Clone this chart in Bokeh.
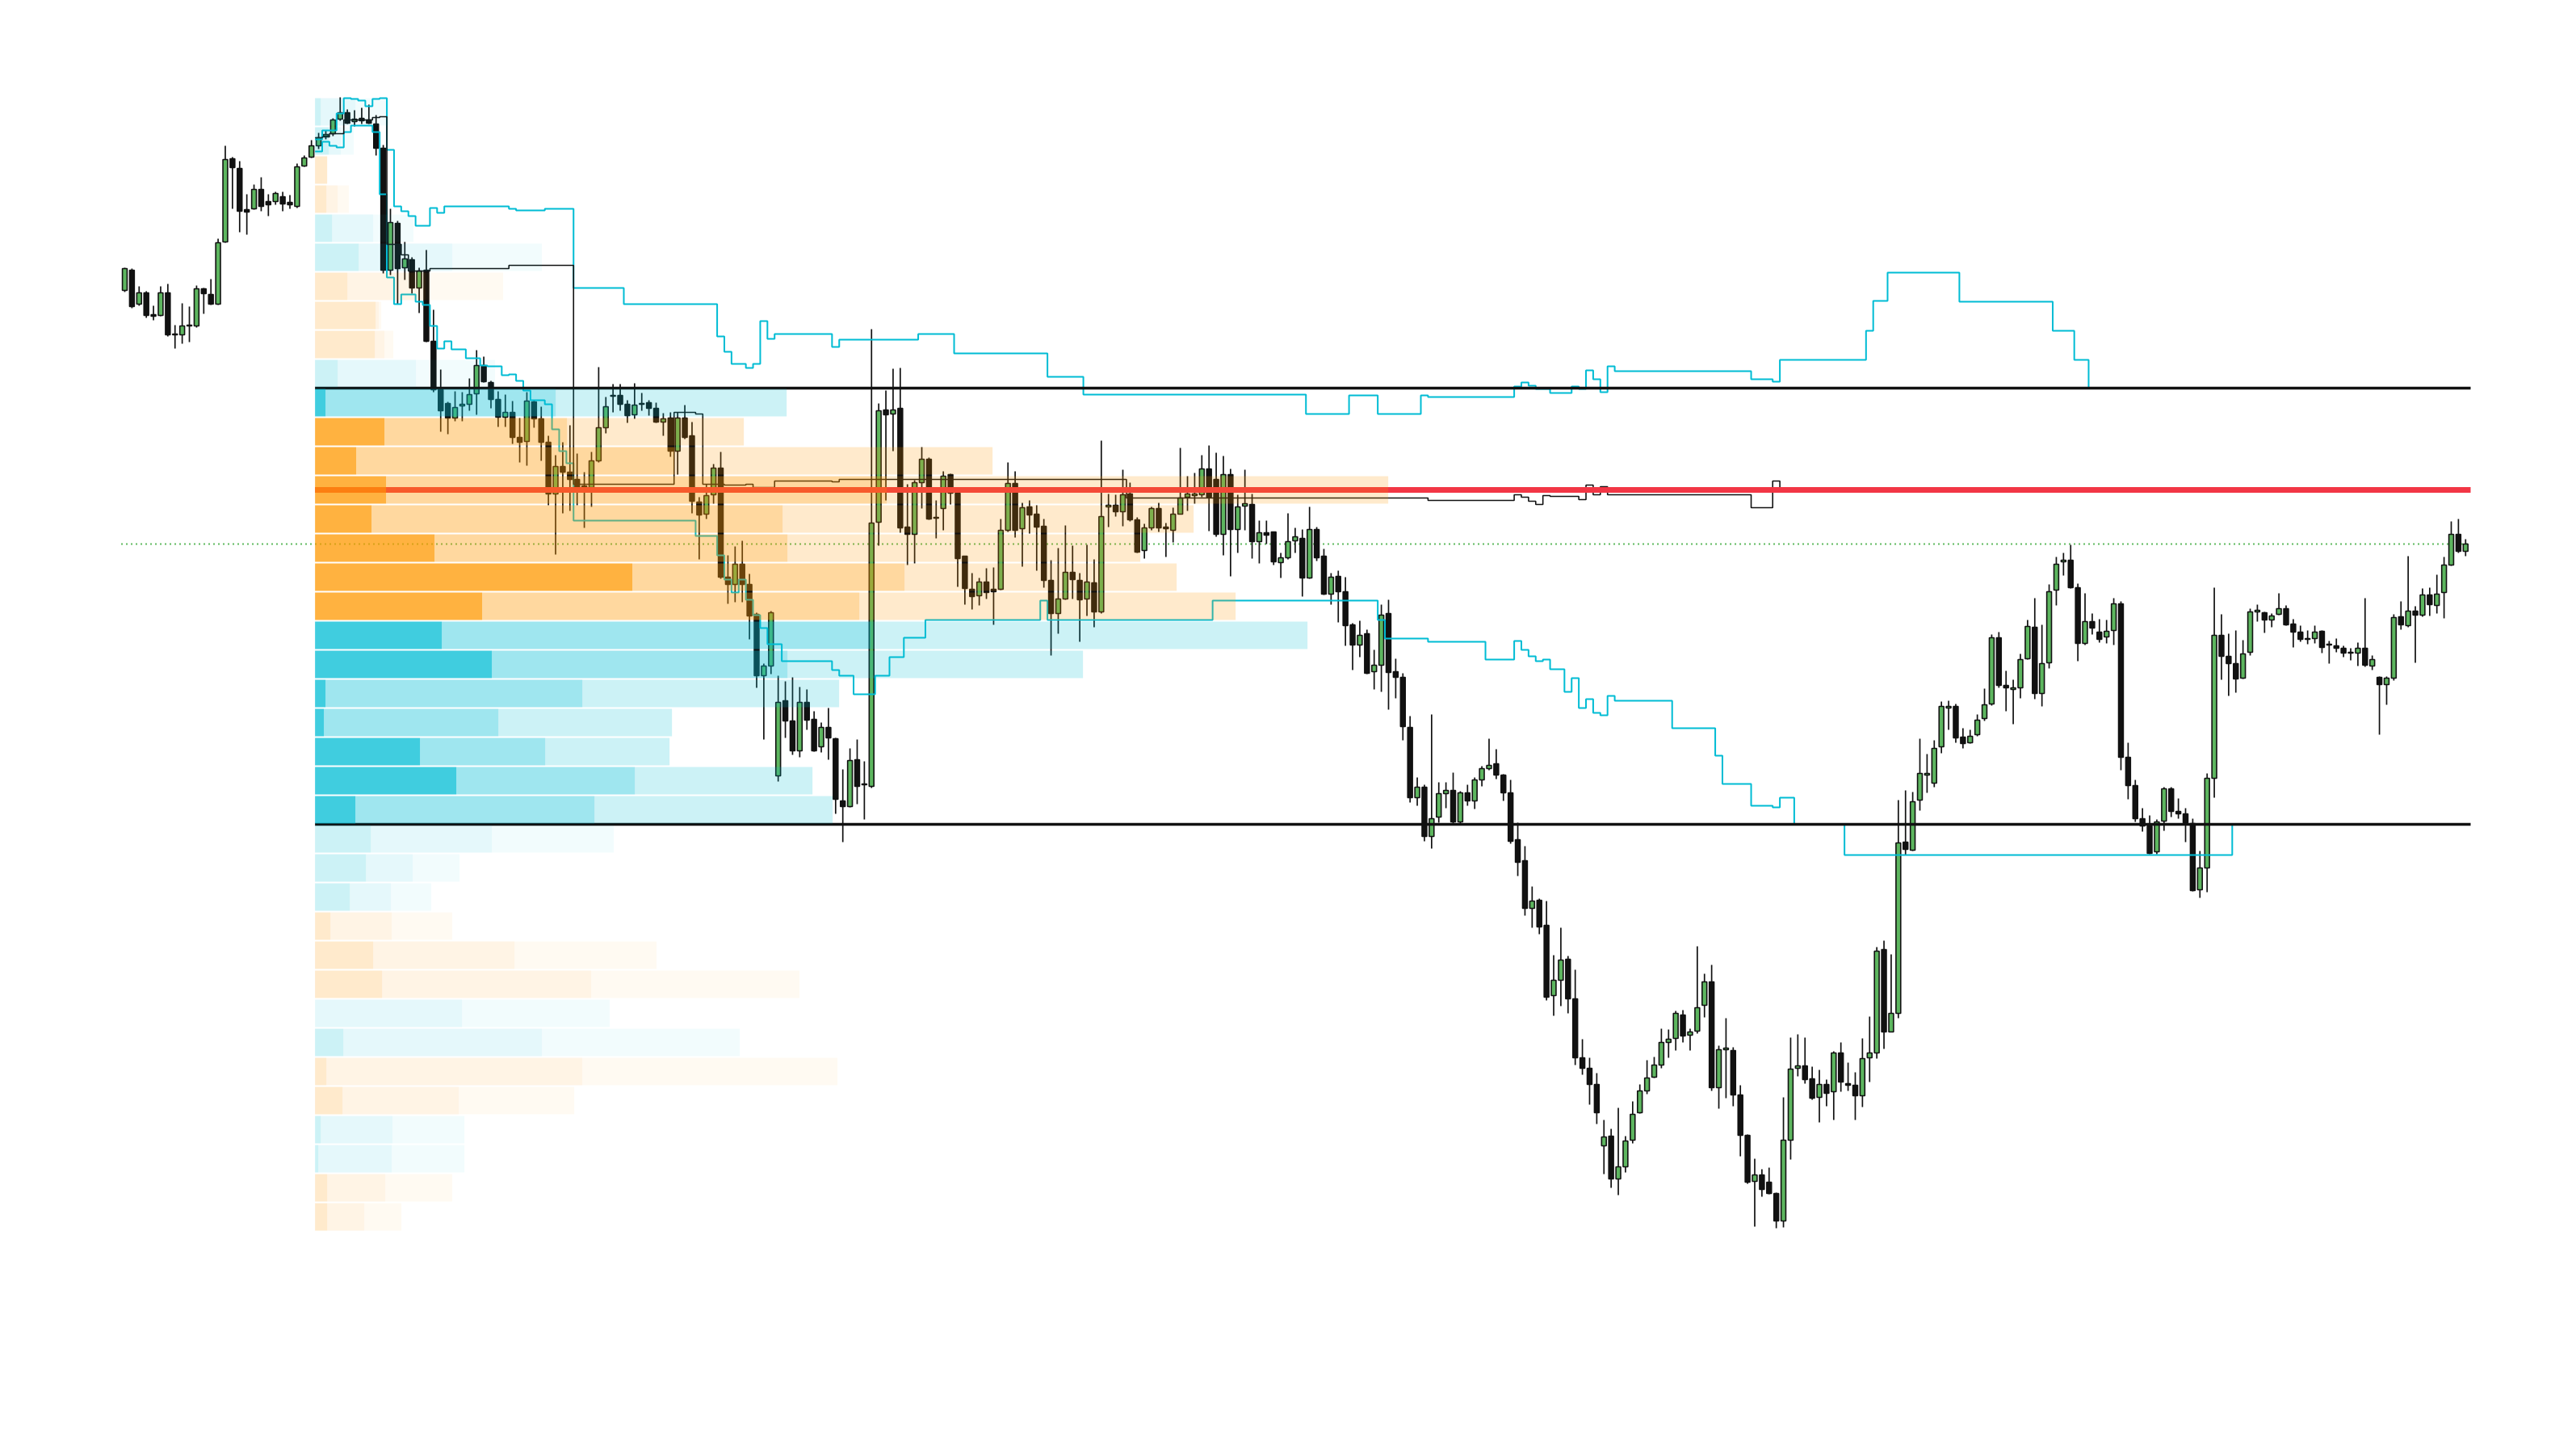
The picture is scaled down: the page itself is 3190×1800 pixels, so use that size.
from bokeh.plotting import figure
from bokeh.models import Range1d
from bokeh.embed import file_html
from bokeh.resources import INLINE

# ---------------- candle data (price units) ----------------
opens = [1641,1666,1624,1638,1611,1610,1638,1587,1586,1597,1597,1643,1636,1624,1701,1804,1792,1741,1742,1766,
1751,1751,1757,1750,1745,1795,1806,1820,1832,1835,1853,1861,1850,1854,1852,1847,1817,1666,1724,1669,
1679,1644,1666,1578,1518,1501,1483,1498,1500,1513,1548,1527,1506,1484,1490,1459,1454,1503,1482,1453,
1389,1423,1416,1407,1399,1397,1430,1471,1510,1511,1500,1487,1500,1502,1495,1478,1483,1442,1483,1461,
1379,1364,1388,1421,1286,1277,1302,1277,1240,1164,1176,1040,1133,1108,1071,1131,1110,1076,1100,1086,
1009,1002,1060,1029,1027,1354,1493,1488,1495,1348,1339,1403,1432,1359,1371,1413,1390,1312,1271,1263,
1280,1271,1271,1344,1402,1346,1373,1364,1349,1282,1241,1259,1292,1282,1259,1279,1243,1373,1375,1367,
1389,1357,1319,1347,1371,1348,1344,1364,1385,1387,1388,1420,1407,1339,1413,1345,1374,1376,1330,1341,
1342,1304,1310,1331,1334,1285,1345,1312,1265,1287,1268,1227,1202,1216,1169,1177,1241,1169,1162,1100,
1013,1026,965,989,1018,1022,983,1019,1009,1035,1049,1055,1041,1019,961,935,876,886,855,768,
787,813,764,691,678,658,582,594,541,556,589,623,650,667,682,710,715,744,719,724,
756,785,654,701,700,645,595,538,546,537,523,489,589,678,681,665,642,658,649,697,
659,657,644,691,697,825,723,746,958,948,1010,1041,1031,1076,1124,1126,1088,1081,1091,1111,
1129,1211,1152,1147,1149,1185,1224,1142,1180,1270,1305,1307,1273,1204,1231,1218,1212,1220,1253,1063,
1028,987,978,946,984,1024,996,993,981,899,926,1037,1214,1188,1179,1161,1193,1243,1242,1233,
1240,1247,1228,1218,1209,1210,1219,1203,1201,1198,1192,1192,1198,1176,1162,1153,1161,1237,1226,1244,
1239,1264,1251,1267,1301,1339,1318]
highs = [1669,1668,1646,1640,1622,1646,1649,1598,1625,1621,1647,1644,1655,1705,1820,1806,1801,1760,1772,1781,
1760,1763,1763,1759,1798,1808,1827,1836,1839,1854,1880,1865,1864,1867,1871,1858,1821,1742,1727,1701,
1682,1669,1691,1617,1543,1503,1516,1515,1532,1567,1559,1529,1516,1512,1504,1483,1515,1505,1497,1461,
1437,1453,1474,1439,1416,1441,1546,1509,1525,1525,1505,1526,1514,1505,1502,1489,1490,1490,1499,1478,
1385,1401,1426,1441,1313,1324,1331,1290,1242,1179,1244,1164,1157,1162,1150,1147,1120,1106,1124,1087,
1048,1074,1085,1058,1593,1501,1517,1544,1545,1401,1406,1447,1434,1381,1417,1414,1392,1312,1291,1285,
1297,1298,1358,1428,1417,1378,1381,1375,1358,1307,1322,1350,1325,1291,1326,1308,1455,1389,1388,1419,
1403,1360,1352,1373,1378,1353,1372,1446,1411,1415,1437,1449,1440,1436,1420,1388,1419,1389,1356,1356,
1342,1316,1365,1347,1345,1373,1348,1321,1291,1294,1286,1229,1232,1221,1196,1252,1258,1185,1167,1114,
1038,1029,1116,1032,1032,1044,1021,1029,1038,1052,1086,1073,1042,1035,982,953,903,888,885,818,
852,817,800,714,691,672,614,603,629,594,637,658,688,692,727,726,749,750,727,829,
795,806,706,740,704,657,596,566,553,555,524,642,716,720,716,680,676,664,699,710,
685,673,715,742,828,836,819,1010,1022,1020,1086,1067,1084,1132,1133,1129,1099,1097,1116,1148,
1215,1218,1170,1159,1191,1233,1260,1227,1277,1311,1316,1326,1278,1266,1241,1234,1233,1260,1256,1081,
1035,1000,991,986,1026,1026,1012,1000,987,947,1043,1273,1240,1216,1220,1208,1247,1252,1243,1241,
1266,1251,1234,1226,1220,1226,1220,1207,1210,1201,1198,1205,1260,1189,1163,1163,1240,1256,1312,1250,
1272,1273,1289,1311,1355,1358,1333]
lows = [1639,1619,1622,1607,1604,1609,1584,1569,1575,1577,1595,1612,1623,1623,1700,1742,1713,1710,1741,1739,
1733,1747,1739,1742,1743,1794,1805,1816,1828,1832,1851,1847,1844,1847,1847,1808,1662,1660,1624,1654,
1637,1613,1577,1515,1466,1463,1479,1479,1492,1487,1527,1495,1472,1472,1451,1428,1424,1471,1430,1375,
1314,1365,1368,1375,1347,1373,1428,1464,1490,1492,1477,1482,1492,1486,1477,1461,1435,1413,1457,1365,
1308,1358,1377,1284,1253,1255,1255,1209,1149,1085,1166,1033,1087,1066,1063,1097,1070,1069,1060,993,
958,1001,1005,986,1025,1325,1381,1442,1341,1301,1303,1371,1357,1334,1344,1376,1274,1252,1246,1251,
1259,1227,1270,1342,1335,1299,1340,1294,1273,1189,1216,1258,1259,1206,1238,1224,1241,1348,1361,1349,
1355,1316,1309,1344,1342,1311,1329,1364,1368,1377,1385,1343,1336,1313,1287,1316,1344,1309,1303,1327,
1301,1285,1308,1316,1262,1284,1306,1264,1252,1230,1201,1171,1187,1166,1147,1144,1122,1136,1084,1007,
1003,959,950,982,1000,979,979,1003,999,1027,1047,1036,1009,956,916,867,852,844,762,743,
755,746,682,670,633,609,547,530,521,549,585,622,646,666,678,691,700,710,700,721,
741,650,628,641,631,569,535,482,519,522,480,481,565,668,659,639,611,631,614,649,
650,614,630,661,690,702,723,740,942,947,997,1019,1026,1068,1097,1081,1074,1080,1089,1108,
1127,1149,1120,1104,1136,1184,1135,1126,1173,1251,1288,1272,1182,1202,1215,1205,1204,1202,1047,1011,
983,971,943,943,972,989,987,958,897,889,896,1013,1159,1139,1143,1160,1189,1231,1217,1224,
1239,1226,1199,1206,1203,1204,1192,1179,1193,1187,1183,1176,1175,1171,1091,1128,1158,1221,1224,1180,
1237,1238,1241,1235,1300,1316,1312]
closes = [1668,1621,1638,1610,1609,1638,1586,1586,1597,1598,1643,1637,1624,1700,1803,1793,1739,1738,1766,1745,
1747,1761,1748,1747,1794,1805,1820,1830,1834,1852,1861,1848,1853,1851,1848,1817,1666,1725,1668,1680,
1644,1665,1578,1518,1492,1483,1496,1500,1512,1548,1528,1506,1484,1490,1459,1453,1504,1482,1453,1389,
1423,1416,1407,1397,1396,1430,1471,1497,1511,1500,1486,1499,1501,1495,1478,1482,1442,1483,1459,1380,
1363,1387,1421,1286,1277,1302,1277,1238,1164,1176,1242,1131,1108,1071,1131,1109,1071,1100,1087,1011,
1002,1059,1027,1030,1353,1492,1487,1493,1347,1339,1403,1432,1358,1360,1411,1390,1309,1272,1262,1280,
1267,1268,1344,1402,1344,1372,1363,1348,1282,1241,1259,1292,1283,1258,1280,1243,1361,1375,1367,1388,
1357,1317,1347,1371,1347,1346,1364,1384,1389,1389,1420,1385,1339,1413,1345,1373,1377,1330,1341,1338,
1305,1310,1330,1336,1285,1345,1310,1265,1286,1268,1226,1202,1214,1167,1177,1239,1168,1162,1101,1013,
1026,965,987,1018,1022,983,1019,1009,1035,1049,1053,1041,1019,959,933,876,885,853,766,787,
812,764,691,678,658,623,593,541,556,588,621,650,666,682,710,714,746,718,723,753,
785,654,701,703,645,595,537,546,528,523,489,589,677,681,664,641,658,647,697,661,
657,644,690,697,823,723,746,957,949,1008,1043,1043,1074,1126,1126,1087,1080,1089,1109,1128,
1211,1152,1149,1149,1184,1225,1142,1179,1268,1302,1307,1273,1204,1231,1223,1209,1219,1253,1063,1028,
987,978,944,983,1024,996,993,982,898,926,1037,1214,1188,1179,1160,1191,1243,1245,1233,1238,
1247,1227,1218,1209,1210,1218,1199,1202,1198,1192,1193,1198,1177,1184,1153,1161,1236,1227,1244,1239,
1264,1252,1265,1301,1339,1318,1327]

# ---------------- fixed-range volume profile ----------------
profile_top_price = 1880
bin_size = 36
row_side = ["dn","dn","up","up","dn","dn","up","up","up","dn",
            "dn","up","up","up","up","up","up","up","dn","dn",
            "dn","dn","dn","dn","dn","dn","dn","dn","up","up",
            "up","dn","dn","up","up","dn","dn","up","up"]
vol_core = [7,17,15,14,21,54,40,75,74,28, 13,86,51,88,70,148,393,207,157,219,
            13,11,130,175,50, 69,63,43,19,72, 83,0,35,14,34, 7,4,15,15]
vol_mid = [43,15,0,14,51,116,97,4,12,97, 285,226,394,620,509,437,337,467,531,366,
           318,216,155,221,296, 150,58,51,76,175, 259,182,246,317,144, 89,91,72,46]
vol_outer = [42,16,0,14,50,111,96,3,11,98, 286,219,394,621,509,437,337,466,541,366,
             318,215,154,220,295, 151,58,50,75,176, 258,183,245,316,143, 89,90,83,46]
va_high = 1520
va_low = 980
poc_price = 1394

# developing value area / POC (change points: bar index, level)
vah_bar = [27,28,30,31,32,33,34,35,36,37,38,39,40,41,43,44,45,54,55,59,63,70,83,84,85,87,88,89,90,91,
           99,100,111,116,129,134,165,171,175,181,182,194,195,196,197,199,202,203,204,205,206,207,208,
           227,230,231,243,244,246,256,269,272,274]
vah_lvl = [1828,1839,1860,1879,1878,1876,1869,1878,1879,1815,1745,1739,1733,1721,1743,1737,1745,1742,1740,1742,
           1644,1624,1584,1565,1550,1545,1550,1603,1581,1587,1571,1580,1587,1563,1534,1512,1488,1511,1488,1511,
           1509,1522,1527,1523,1519,1514,1522,1519,1542,1531,1515,1547,1541,1531,1528,1555,1591,1628,1663,1627,
           1591,1555,1520]
val_bar = [27,28,29,30,31,32,35,36,37,38,39,41,42,43,44,45,46,48,50,51,53,54,55,56,57,59,60,61,62,63,
           80,83,84,85,86,87,88,89,90,92,99,100,102,105,107,109,112,128,129,152,175,176,182,190,194,195,196,
           197,198,199,201,202,203,204,205,206,207,208,216,222,223,227,230,231,233,240,294]
val_lvl = [1813,1825,1820,1818,1837,1845,1837,1760,1657,1624,1636,1627,1623,1597,1569,1578,1568,1557,1548,1547,
           1536,1537,1529,1517,1505,1500,1469,1442,1427,1356,1337,1313,1283,1267,1283,1258,1239,1223,1203,1182,
           1171,1164,1141,1164,1187,1211,1233,1257,1233,1257,1233,1210,1206,1184,1207,1196,1188,1182,1184,1172,
           1144,1161,1124,1135,1118,1115,1139,1133,1099,1065,1030,1003,1001,1013,980,942,980]
poc_bar = [27,28,29,31,35,36,37,39,40,43,54,63,77,80,81,84,87,88,91,99,100,140,182,194,195,196,197,198,199,
           203,204,205,206,207,227,230,231]
poc_lvl = [1830,1831,1835,1852,1855,1856,1698,1685,1665,1668,1672,1401,1490,1488,1401,1400,1401,1397,1405,1404,
           1407,1384,1381,1388,1385,1380,1376,1387,1386,1382,1400,1388,1398,1388,1372,1405,1394]

# ---------------- geometry / style ----------------
PX_PER_BAR = 8.892
W, H = 3180, 1790
x_left = -154 / PX_PER_BAR
x_right = x_left + W / PX_PER_BAR
y_top = 2000
y_bottom = y_top - H

p = figure(width=W, height=H, x_range=Range1d(x_left, x_right), y_range=Range1d(y_bottom, y_top),
           output_backend="svg", toolbar_location=None, min_border=0)
p.axis.visible = False
p.grid.visible = False
p.outline_line_color = None
p.background_fill_color = "white"
p.border_fill_color = "white"

n = len(closes)
xs = list(range(n))
GREEN = "#5db65f"
DARK = "#111111"

# current price line (dotted)
p.segment(x0=[-0.5], y0=[closes[-1]], x1=[n - 0.3], y1=[closes[-1]], line_color="#5cb85c",
          line_width=2, line_dash="2 4")

# candles
p.segment(x0=xs, y0=lows, x1=xs, y1=highs, line_color=DARK, line_width=1.7)
up_x = [i for i in xs if closes[i] > opens[i]]
dn_x = [i for i in xs if closes[i] <= opens[i]]
p.vbar(x=up_x, width=0.66, bottom=[opens[i] for i in up_x], top=[closes[i] for i in up_x],
       fill_color=GREEN, line_color=DARK, line_width=1.6)
p.vbar(x=dn_x, width=0.66, top=[opens[i] for i in dn_x], bottom=[closes[i] for i in dn_x],
       fill_color=DARK, line_color=DARK, line_width=1.6)

# developing lines
start = vah_bar[0] - 0.5
p.step(x=[b - 0.5 for b in vah_bar], y=vah_lvl, mode="after", line_color="#00bcd4", line_width=2)
p.step(x=[b - 0.5 for b in val_bar], y=val_lvl, mode="after", line_color="#00bcd4", line_width=2)
p.step(x=[b - 0.5 for b in poc_bar], y=poc_lvl, mode="after", line_color=DARK, line_width=1.6)

# value area lines and POC
end_x = n - 0.3
p.segment(x0=[start, start], y0=[va_high, va_low], x1=[end_x, end_x], y1=[va_high, va_low],
          line_color=DARK, line_width=3.5)
p.segment(x0=[start], y0=[poc_price], x1=[end_x], y1=[poc_price], line_color="#f23645", line_width=7)

# profile rows (drawn on top, translucent)
COL = {"up": "#ff9800", "dn": "#00bcd4"}
for k in range(len(vol_core)):
    top = profile_top_price - bin_size * k
    bot = top - bin_size
    inside = bot >= va_low and top <= va_high
    alphas = (0.75, 0.375, 0.2) if inside else (0.2, 0.1, 0.05)
    c = COL[row_side[k]]
    x0 = start
    for vol, a in zip((vol_core[k], vol_mid[k], vol_outer[k]), alphas):
        if vol <= 0:
            continue
        x1 = x0 + vol / PX_PER_BAR
        p.quad(left=[x0], right=[x1], bottom=[bot + 1], top=[top - 1], fill_color=c, fill_alpha=a,
               line_color=None)
        x0 = x1

open("out.html", "w").write(file_html(p, INLINE))
